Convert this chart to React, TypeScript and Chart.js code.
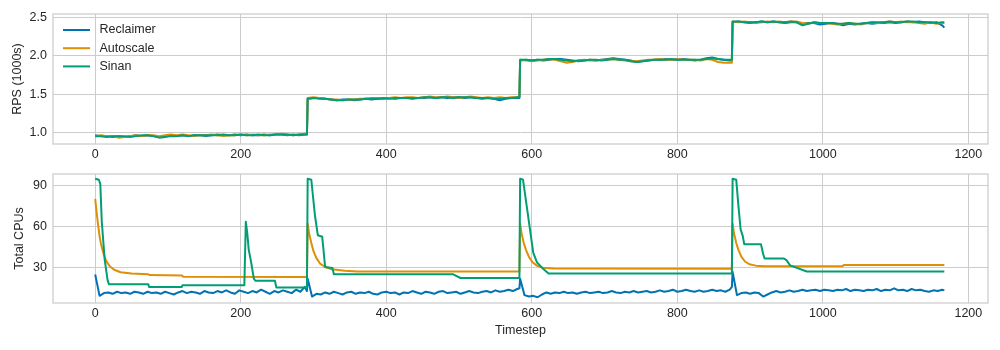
import React, { useEffect, useRef } from "react";
import { Chart, registerables } from "chart.js";

Chart.register(...registerables);

// ---------- data ----------
const SERIES = ["Reclaimer", "Autoscale", "Sinan"];
const COLORS = ["#0173b2", "#de8f05", "#029e73"];
const SEG_STARTS = [0, 292, 584, 876];
const SEG_LAST = 291;
const TOP_STEP = 8;
const BLUE_STEP = 6;
const X_TICKS = [0, 200, 400, 600, 800, 1000, 1200];
const RPS_TICKS = [1.0, 1.5, 2.0, 2.5];
const CPU_TICKS = [30, 60, 90];

// RPS (1000s), sampled every 8 timesteps inside each load phase (last value = phase end)
const rpsReclaimer1 = [0.96,0.95,0.95,0.94,0.95,0.94,0.95,0.96,0.95,0.96,0.95,0.94,0.95,0.96,0.95,0.96,0.95,0.96,0.96,0.95,0.96,0.97,0.96,0.96,0.97,0.96,0.97,0.96,0.96,0.97,0.96,0.97,0.97,0.96,0.97,0.96,0.97,0.97];
const rpsReclaimer2 = [1.44,1.45,1.45,1.44,1.43,1.42,1.43,1.43,1.42,1.43,1.44,1.43,1.44,1.44,1.45,1.44,1.45,1.45,1.44,1.45,1.45,1.46,1.45,1.46,1.45,1.46,1.46,1.45,1.46,1.45,1.44,1.45,1.44,1.42,1.44,1.45,1.45,1.45];
const rpsReclaimer3 = [1.94,1.95,1.94,1.95,1.94,1.95,1.96,1.96,1.95,1.94,1.93,1.94,1.95,1.94,1.95,1.96,1.97,1.96,1.95,1.94,1.92,1.93,1.94,1.95,1.95,1.96,1.95,1.95,1.96,1.95,1.94,1.95,1.97,1.98,1.96,1.95,1.94,1.94];
const rpsReclaimer4 = [2.44,2.45,2.44,2.43,2.44,2.45,2.44,2.45,2.44,2.43,2.44,2.44,2.42,2.43,2.43,2.41,2.42,2.43,2.42,2.40,2.42,2.41,2.42,2.43,2.42,2.43,2.43,2.44,2.43,2.44,2.45,2.44,2.45,2.44,2.43,2.44,2.40,2.37];

const rpsAutoscale1 = [0.95,0.96,0.95,0.95,0.93,0.94,0.95,0.96,0.95,0.96,0.96,0.95,0.96,0.97,0.96,0.97,0.96,0.95,0.96,0.96,0.97,0.96,0.95,0.96,0.96,0.97,0.96,0.97,0.96,0.96,0.97,0.97,0.98,0.97,0.96,0.97,0.98,0.98];
const rpsAutoscale2 = [1.45,1.46,1.45,1.44,1.43,1.43,1.42,1.43,1.43,1.44,1.44,1.45,1.45,1.44,1.45,1.46,1.45,1.46,1.46,1.45,1.46,1.47,1.46,1.46,1.47,1.46,1.45,1.46,1.47,1.46,1.45,1.46,1.45,1.46,1.45,1.46,1.46,1.47];
const rpsAutoscale3 = [1.95,1.94,1.93,1.94,1.95,1.96,1.95,1.93,1.91,1.92,1.94,1.95,1.94,1.94,1.95,1.95,1.96,1.95,1.94,1.93,1.93,1.94,1.95,1.95,1.96,1.95,1.95,1.96,1.95,1.95,1.95,1.94,1.96,1.95,1.92,1.91,1.91,1.91];
const rpsAutoscale4 = [2.45,2.44,2.45,2.44,2.43,2.44,2.45,2.44,2.45,2.44,2.45,2.45,2.43,2.42,2.44,2.43,2.43,2.42,2.41,2.42,2.43,2.42,2.41,2.43,2.44,2.43,2.44,2.45,2.44,2.45,2.44,2.44,2.43,2.42,2.44,2.42,2.43,2.43];

const rpsSinan1 = [0.95,0.95,0.94,0.95,0.95,0.95,0.94,0.95,0.96,0.96,0.95,0.93,0.94,0.95,0.95,0.96,0.95,0.96,0.96,0.96,0.96,0.96,0.97,0.96,0.96,0.97,0.96,0.96,0.97,0.96,0.96,0.97,0.97,0.97,0.96,0.97,0.97,0.97];
const rpsSinan2 = [1.44,1.45,1.44,1.44,1.43,1.42,1.42,1.43,1.43,1.43,1.44,1.44,1.44,1.45,1.44,1.45,1.45,1.45,1.45,1.45,1.46,1.46,1.45,1.46,1.46,1.45,1.46,1.46,1.46,1.45,1.45,1.45,1.44,1.44,1.45,1.45,1.46,1.46];
const rpsSinan3 = [1.95,1.95,1.94,1.95,1.95,1.96,1.96,1.95,1.94,1.93,1.94,1.94,1.95,1.95,1.94,1.95,1.96,1.95,1.95,1.93,1.92,1.93,1.94,1.95,1.95,1.95,1.96,1.95,1.95,1.95,1.95,1.95,1.96,1.97,1.96,1.95,1.95,1.95];
const rpsSinan4 = [2.45,2.45,2.44,2.44,2.44,2.45,2.44,2.45,2.44,2.44,2.45,2.44,2.40,2.42,2.44,2.43,2.43,2.43,2.42,2.42,2.43,2.42,2.42,2.43,2.44,2.44,2.44,2.45,2.44,2.44,2.45,2.45,2.44,2.44,2.44,2.43,2.44,2.44];

// Total CPUs for Reclaimer, sampled every 6 timesteps inside each phase
const cpuReclaimer1 = [25,9.5,11.5,12,11,12.5,11.5,12,11,12.5,12,11,12.5,11.5,12,11,12.5,11.5,10.5,12,13,11.5,12.5,12,11,13,12,11.5,13,12,13.5,12,11,13.5,12.5,11.5,13,12,14,12.5,11,13,12,13.5,12.5,11.5,14,12.5,16,13];
const cpuReclaimer2 = [22,9,11,10.5,12,11,12.5,11.5,10.5,12,12.5,11,12,11.5,12.5,11,10.5,12,12.5,11.5,12,10.5,12,11.5,13,12,11,12.5,12,11,12.5,13,11.5,12,12.5,11,12,13,12,11.5,12.5,13,12,13.5,12.5,13,14,13,14.5,15];
const cpuReclaimer3 = [22,10,9,9.5,8.5,10.5,12,11,12,11.5,12.5,11.5,12,11,12,12.5,11.5,12,12.5,11.5,12,13,12,11.5,12.5,12,13,12,12.5,13,12,12.5,13.5,12.5,13,14,12.5,13,14,13,12.5,13.5,12.5,13,14,13,13.5,12.5,14,16];
const cpuReclaimer4 = [27,10,11.5,12,11,12,11.5,9,10.5,12,13,12,12.5,13.5,12.5,13,14,13,13.5,14,13,14,13.5,13,14,13.5,14.5,13,14,13.5,13,14,13.5,14.5,13,14,13.5,15,13.5,14,13,14.5,13.5,14,13,12.5,13.5,13,14,13.5];

// Total CPUs for Autoscale and Sinan (timestep, value) break points
const cpuAutoscaleT = [0,2,4,6,8,11,15,20,26,35,50,73,75,119,121,291, 292,294,297,300,304,309,316,325,343,360,583, 584,586,589,592,596,601,607,615,630,875, 876,878,881,884,888,893,899,908,920,1027,1029,1167];
const cpuAutoscaleV = [80,70,61,53,47,41,35,31,28.5,26.7,25.7,25.2,24.6,24.4,23.4,23.3, 62,55,48,42,37,33,30.5,28.8,27.7,27.2,27.3, 62,55,48,43,38,34,31.5,30,29.4,29.2, 62,55,48,43,38,34.5,32.5,31.5,31,31,32,32];
const cpuSinanT = [0,5,7,9,13,17,19,73,74,119,120,205,207,209,211,214,218,220,247,249,291, 292,297,302,306,312,316,326,328,492,502,583, 584,588,593,598,602,607,614,623,875, 876,881,884,887,890,892,915,918,920,946,950,955,978,1167];
const cpuSinanV = [94.8,94,91,64,36,21,17.9,17.9,16,16,17.3,17.3,63.5,55,43,35,22,20.5,20.5,15.5,15.5, 94.8,94,68,53.6,52.5,30.5,29.8,25.2,25.2,22.5,22.5, 94.8,94,75,56,41,34,30,25.7,25.7, 94.8,94,75,58,53,47,47,40,36.7,36.7,35.5,31.7,27.2,27.2];

// ---------- helpers ----------
type Pt = { x: number; y: number };
const fromSegments = (segs: number[][], step: number): Pt[] =>
  segs.flatMap((vals, k) =>
    vals.map((y, i) => ({ x: SEG_STARTS[k] + Math.min(i * step, SEG_LAST), y }))
  );
const fromPairs = (ts: number[], vs: number[]): Pt[] => ts.map((t, i) => ({ x: t, y: vs[i] }));

const FONT_FAMILY = "'Liberation Sans', Arial, sans-serif";
const TEXT_COLOR = "#262626";
const GRID_COLOR = "#cccccc";
const font = { family: FONT_FAMILY, size: 12.5, lineHeight: 1.2 };

const framePlugin = {
  id: "frame",
  afterDatasetsDraw(chart: any) {
    const { ctx, chartArea: a } = chart;
    ctx.save();
    ctx.strokeStyle = GRID_COLOR;
    ctx.lineWidth = 1.25;
    ctx.strokeRect(a.left, a.top, a.right - a.left, a.bottom - a.top);
    ctx.restore();
  },
};

const legendPlugin = {
  id: "insideLegend",
  afterDraw(chart: any) {
    const { ctx, chartArea: a } = chart;
    ctx.save();
    ctx.font = `12.5px ${FONT_FAMILY}`;
    ctx.textBaseline = "middle";
    ctx.textAlign = "left";
    SERIES.forEach((name, i) => {
      const y = a.top + 16 + i * 18.2;
      ctx.strokeStyle = COLORS[i];
      ctx.lineWidth = 2;
      ctx.beginPath();
      ctx.moveTo(a.left + 10, y);
      ctx.lineTo(a.left + 37, y);
      ctx.stroke();
      ctx.fillStyle = TEXT_COLOR;
      ctx.fillText(name, a.left + 46.5, y);
    });
    ctx.restore();
  },
};

const lineDs = (label: string, data: Pt[], idx: number) => ({
  label,
  data,
  borderColor: COLORS[idx],
  backgroundColor: COLORS[idx],
  borderWidth: 2,
  pointRadius: 0,
  tension: 0,
  fill: false,
  borderJoinStyle: "round" as const,
  order: 3 - idx,
});

const xScale = (height: number, withTitle: boolean) => ({
  type: "linear" as const,
  min: -58,
  max: 1227,
  afterBuildTicks: (s: any) => {
    s.ticks = X_TICKS.map((v) => ({ value: v }));
  },
  afterFit: (s: any) => {
    s.height = height;
    s.paddingLeft = 0;
    s.paddingRight = 0;
    s.paddingTop = 0;
    s.paddingBottom = 0;
  },
  grid: { color: GRID_COLOR, lineWidth: 1, drawTicks: false },
  border: { display: false },
  ticks: {
    padding: 3,
    font,
    color: TEXT_COLOR,
    maxRotation: 0,
    autoSkip: false,
    callback: (v: any) => String(v),
  },
  title: {
    display: withTitle,
    text: "Timestep",
    font,
    color: TEXT_COLOR,
    padding: { top: 0, bottom: 12 },
  },
});

const yScale = (min: number, max: number, ticks: number[], fmt: (v: number) => string, title: string, titlePad: number) => ({
  type: "linear" as const,
  min,
  max,
  afterBuildTicks: (s: any) => {
    s.ticks = ticks.map((v) => ({ value: v }));
  },
  afterFit: (s: any) => {
    s.width = 53;
    s.paddingLeft = 0;
    s.paddingRight = 0;
    s.paddingTop = 0;
    s.paddingBottom = 0;
  },
  grid: { color: GRID_COLOR, lineWidth: 1, drawTicks: false },
  border: { display: false },
  ticks: { padding: 6, font, color: TEXT_COLOR, callback: (v: any) => fmt(Number(v)) },
  title: { display: true, text: title, font, color: TEXT_COLOR, padding: { top: titlePad, bottom: 0 } },
});

export default function App() {
  const topRef = useRef<HTMLCanvasElement | null>(null);
  const botRef = useRef<HTMLCanvasElement | null>(null);

  useEffect(() => {
    const rps = [
      fromSegments([rpsReclaimer1, rpsReclaimer2, rpsReclaimer3, rpsReclaimer4], TOP_STEP),
      fromSegments([rpsAutoscale1, rpsAutoscale2, rpsAutoscale3, rpsAutoscale4], TOP_STEP),
      fromSegments([rpsSinan1, rpsSinan2, rpsSinan3, rpsSinan4], TOP_STEP),
    ];
    const cpu = [
      fromSegments([cpuReclaimer1, cpuReclaimer2, cpuReclaimer3, cpuReclaimer4], BLUE_STEP),
      fromPairs(cpuAutoscaleT, cpuAutoscaleV),
      fromPairs(cpuSinanT, cpuSinanV),
    ];

    const top = new Chart(topRef.current as HTMLCanvasElement, {
      type: "line",
      data: { datasets: SERIES.map((s, i) => lineDs(s, rps[i], i)) },
      options: {
        responsive: false,
        animation: false,
        devicePixelRatio: 1,
        parsing: false,
        layout: { padding: { left: 0, right: 12, top: 14, bottom: 0 } },
        plugins: { legend: { display: false }, tooltip: { enabled: false } },
        scales: {
          x: xScale(21, false),
          y: yScale(0.847, 2.548, RPS_TICKS, (v) => v.toFixed(1), "RPS (1000s)", 10),
        },
      } as any,
      plugins: [framePlugin, legendPlugin],
    });

    const bot = new Chart(botRef.current as HTMLCanvasElement, {
      type: "line",
      data: { datasets: SERIES.map((s, i) => lineDs(s, cpu[i], i)) },
      options: {
        responsive: false,
        animation: false,
        devicePixelRatio: 1,
        parsing: false,
        layout: { padding: { left: 0, right: 12, top: 9, bottom: 0 } },
        plugins: { legend: { display: false }, tooltip: { enabled: false } },
        scales: {
          x: xScale(47, true),
          y: yScale(4.3, 98.2, CPU_TICKS, (v) => String(Math.round(v)), "Total CPUs", 12.5),
        },
      } as any,
      plugins: [framePlugin],
    });

    return () => {
      top.destroy();
      bot.destroy();
    };
  }, []);

  return (
    <div style={{ position: "fixed", left: 0, top: 0, width: 1000, height: 350, background: "#ffffff" }}>
      <canvas ref={topRef} width={1000} height={165} style={{ position: "absolute", left: 0, top: 0 }} />
      <canvas ref={botRef} width={1000} height={185} style={{ position: "absolute", left: 0, top: 165 }} />
    </div>
  );
}
